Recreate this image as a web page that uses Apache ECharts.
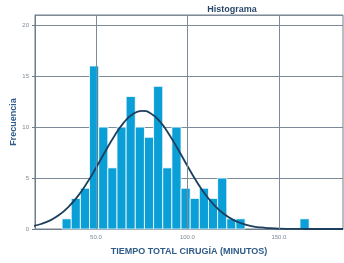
<!DOCTYPE html>
<html>
<head>
<meta charset="utf-8">
<script src="https://cdn.jsdelivr.net/npm/echarts@6/dist/echarts.min.js"></script>
<style>
	html, body { margin: 0; padding: 0; background: #fff; }
	#main { width: 344px; height: 263px; }
</style>
</head>
<body>
<div id="main"></div>
<script>
// histogram bins (minutes): start, end
var bin_start = [31.5, 36.5, 41.5, 46.5, 51.5, 56.5, 61.5, 66.5, 71.5, 76.5, 81.5, 86.5, 91.5, 96.5, 101.5, 106.5, 111.5, 116.5, 121.5, 126.5, 161.5];
var bin_end = [36.5, 41.5, 46.5, 51.5, 56.5, 61.5, 66.5, 71.5, 76.5, 81.5, 86.5, 91.5, 96.5, 101.5, 106.5, 111.5, 116.5, 121.5, 126.5, 131.5, 166.5];
var bin_count = [1, 3, 4, 16, 10, 6, 10, 13, 10, 9, 14, 6, 10, 4, 3, 4, 3, 5, 1, 1, 1];

// normal curve
var curve_x = [15, 20, 25, 30, 35, 40, 45, 50, 55, 60, 65, 70, 75, 80, 85, 90, 95, 100, 105, 110, 115, 120, 125, 130, 135, 140, 145, 150, 160, 170, 185];
var curve_y = [0.27, 0.49, 0.85, 1.39, 2.17, 3.2, 4.49, 5.99, 7.58, 9.11, 10.39, 11.27, 11.6, 11.34, 10.53, 9.28, 7.77, 6.18, 4.66, 3.34, 2.28, 1.47, 0.9, 0.53, 0.29, 0.15, 0.08, 0.04, 0.01, 0, 0];

var x_ticks = [50, 100, 150];

var hist_data = [];
for (let i = 0; i < bin_count.length; i++) {
	hist_data.push([bin_start[i], bin_end[i], bin_count[i]]);
}
var curve_data = [];
for (let i = 0; i < curve_x.length; i++) {
	curve_data.push([curve_x[i], curve_y[i]]);
}

var chart = echarts.init(document.getElementById('main'), null, { renderer: 'canvas' });
var option = {
	animation: false,
	textStyle: { fontFamily: 'Liberation Sans' },
	title: {
		text: 'Histograma',
		left: 227,
		top: 0,
		textAlign: 'center',
		textStyle: { fontSize: 9, fontWeight: 'bold', color: '#2b4a6b' }
	},
	grid: {
		left: 35,
		right: 1,
		top: 15,
		bottom: 34,
		outerBoundsMode: 'none',
		containLabel: false,
		show: true,
		borderColor: '#6f7d8c',
		borderWidth: 1
	},
	xAxis: {
		type: 'value',
		min: 16.7,
		max: 185,
		name: 'TIEMPO TOTAL CIRUGÍA (MINUTOS)',
		nameLocation: 'middle',
		nameGap: 18,
		nameTextStyle: { fontSize: 9, fontWeight: 'bold', color: '#2f5b88' },
		axisLine: { show: true, lineStyle: { color: '#6f7d8c' } },
		axisTick: { show: false, customValues: x_ticks },
		axisLabel: {
			customValues: x_ticks,
			fontSize: 6,
			color: '#7a8896',
			margin: 5,
			formatter: function (v) { return v.toFixed(1); }
		},
		splitLine: { show: false }
	},
	yAxis: {
		type: 'value',
		min: 0,
		max: 21,
		interval: 5,
		name: 'Frecuencia',
		nameLocation: 'middle',
		nameGap: 17,
		nameMoveOverlap: false,
		nameTextStyle: { fontSize: 9, fontWeight: 'bold', color: '#2f5b88' },
		axisLine: { show: true, lineStyle: { color: '#6f7d8c' } },
		axisTick: { show: true, length: 3, lineStyle: { color: '#6f7d8c' } },
		axisLabel: { fontSize: 6, color: '#7a8896', margin: 6, showMaxLabel: false },
		splitLine: { show: true, lineStyle: { color: '#7d8a98', width: 1 } }
	},
	series: [
		{
			// vertical grid lines behind the bars
			type: 'line',
			data: [],
			z: 1,
			markLine: {
				silent: true,
				symbol: 'none',
				label: { show: false },
				lineStyle: { color: '#7d8a98', width: 1, type: 'solid' },
				data: x_ticks.map(function (v) { return { xAxis: v }; })
			}
		},
		{
			type: 'custom',
			data: hist_data,
			encode: { x: [0, 1], y: 2 },
			renderItem: function (params, api) {
				var p0 = api.coord([api.value(0), api.value(2)]);
				var p1 = api.coord([api.value(1), 0]);
				return {
					type: 'rect',
					shape: { x: p0[0], y: p0[1], width: p1[0] - p0[0], height: p1[1] - p0[1] },
					style: { fill: '#0a9fd6', stroke: '#ffffff', lineWidth: 0.8 }
				};
			},
			z: 2
		},
		{
			type: 'line',
			data: curve_data,
			smooth: true,
			showSymbol: false,
			lineStyle: { color: '#1d3f5e', width: 1.8 },
			z: 3
		}
	]
};
chart.setOption(option);
</script>
</body>
</html>
